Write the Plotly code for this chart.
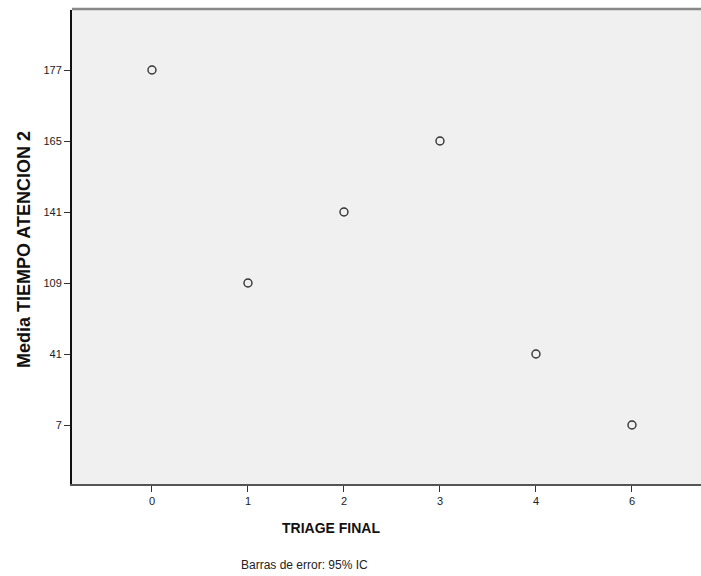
import plotly.graph_objects as go

triage = ["0", "1", "2", "3", "4", "6"]
media_tiempo = ["177", "109", "141", "165", "41", "7"]
y_levels = ["7", "41", "109", "141", "165", "177"]

fig = go.Figure()
fig.add_trace(go.Scatter(
    x=triage, y=media_tiempo, mode="markers",
    marker=dict(symbol="circle-open", size=8, color="#333333", line=dict(width=1.4, color="#333333")),
    showlegend=False, hoverinfo="skip"))

W, H = 701, 576
fig.update_layout(
    template="none",
    width=W, height=H,
    margin=dict(l=72, r=0, t=10, b=92),
    paper_bgcolor="white", plot_bgcolor="#f0f0f0",
    font=dict(family="Liberation Sans, Arial", size=11, color="#222222"),
    xaxis=dict(type="category", categoryorder="array", categoryarray=triage,
               range=[-0.833, 5.719], showgrid=False, zeroline=False,
               showline=True, linecolor="#555555", linewidth=2,
               ticks="outside", ticklen=6, tickcolor="#333333", tickwidth=1,
               tickfont=dict(size=11, color="#222222")),
    yaxis=dict(type="category", categoryorder="array", categoryarray=y_levels,
               range=[-0.831, 5.845], showgrid=False, zeroline=False,
               showline=True, linecolor="#111111", linewidth=2,
               ticks="outside", ticklen=6, tickcolor="#333333", tickwidth=1,
               tickfont=dict(size=11, color="#222222")),
    shapes=[dict(type="line", xref="paper", yref="paper", x0=0, x1=1, y0=1.002, y1=1.002,
                 layer="above", line=dict(color="#888888", width=2.5))],
    annotations=[
        dict(text="<b>TRIAGE FINAL</b>", xref="paper", yref="paper",
             x=(331 - 72) / (W - 72), y=-(528 - 484) / (484 - 10), showarrow=False,
             xanchor="center", yanchor="middle", font=dict(size=14, color="#111111")),
        dict(text="Barras de error: 95% IC", xref="paper", yref="paper",
             x=(304 - 72) / (W - 72), y=-(565 - 484) / (484 - 10), showarrow=False,
             xanchor="center", yanchor="middle", font=dict(size=12, color="#222222")),
        dict(text="<b>Media TIEMPO ATENCION 2</b>", xref="paper", yref="paper",
             x=-(72 - 24) / (W - 72), y=(484 - 250) / (484 - 10), showarrow=False,
             textangle=-90, xanchor="center", yanchor="middle",
             font=dict(size=18, color="#111111")),
    ],
)
fig.write_html("out.html", config={"displayModeBar": False},
               post_script="document.body.style.margin='0';document.body.style.padding='0';")
